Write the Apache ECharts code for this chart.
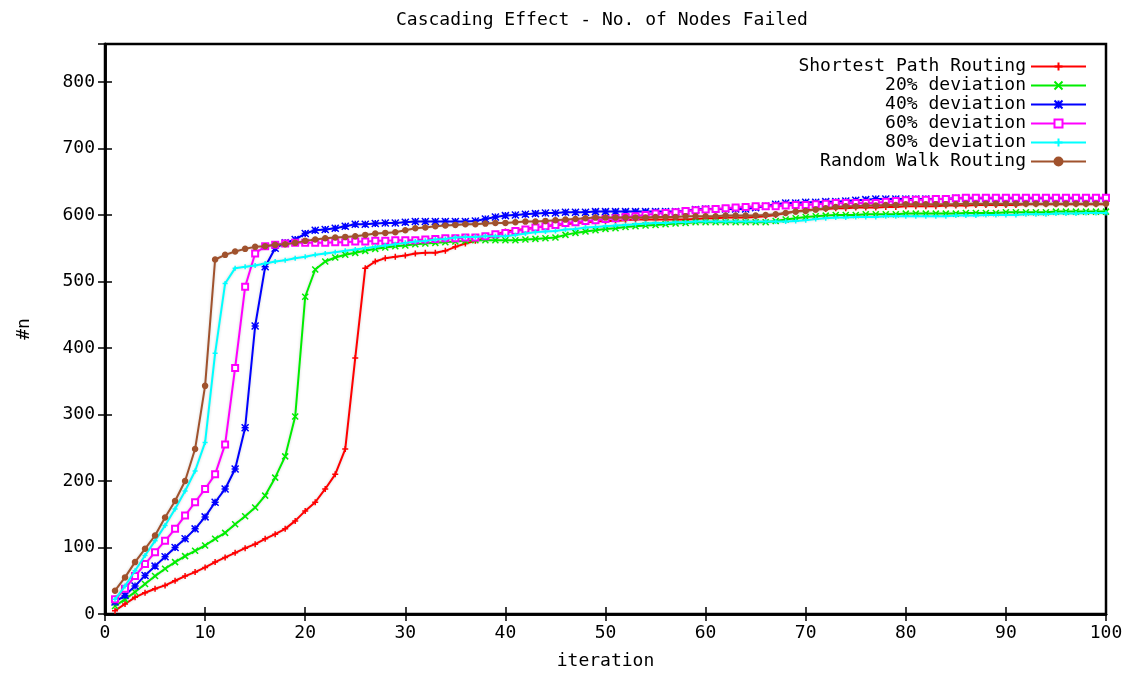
<!DOCTYPE html>
<html>
<head>
<meta charset="utf-8">
<script src="https://cdn.jsdelivr.net/npm/echarts@6/dist/echarts.min.js"></script>
<style>
html,body{margin:0;padding:0;background:#fff;}
#chart{width:1139px;height:675px;}
</style>
</head>
<body>
<div id="chart"></div>
<script>
const titleText = "Cascading Effect - No. of Nodes Failed";
const xAxisName = "iteration";
const yAxisName = "#n";
const seriesNames = ["Shortest Path Routing", "20% deviation", "40% deviation", "60% deviation", "80% deviation", "Random Walk Routing"];
const seriesColors = ["#ff0000", "#00ee00", "#0000ff", "#ff00ff", "#00ffff", "#a0522d"];

const iterations = [];
for (let i = 1; i <= 100; i++) iterations.push(i);

const shortestPath = [
  5, 15, 25, 32, 38, 43, 50, 57, 63, 70,
  78, 85, 92, 99, 105, 113, 120, 128, 140, 155,
  168, 188, 210, 248, 385, 520, 530, 535, 537, 539,
  542, 543, 543, 546, 552, 557, 561, 565, 570, 575,
  577, 579, 581, 583, 585, 586, 588, 589, 590, 591,
  591, 592, 593, 593, 593, 593, 593, 593, 594, 595,
  595, 596, 596, 596, 597, 598, 600, 603, 605, 607,
  608, 609, 610, 610, 611, 611, 611, 612, 612, 613,
  613, 613, 613, 614, 614, 614, 615, 615, 615, 615,
  615, 616, 616, 616, 616, 616, 616, 616, 616, 616
];
const dev20 = [
  12, 22, 33, 45, 57, 68, 78, 87, 95, 103,
  113, 122, 135, 147, 160, 178, 205, 237, 297, 477,
  518, 530, 536, 540, 543, 546, 549, 551, 553, 554,
  556, 557, 558, 559, 560, 561, 562, 562, 562, 562,
  562, 563, 564, 565, 566, 570, 573, 575, 577, 579,
  580, 582, 583, 584, 585, 586, 587, 588, 589, 589,
  589, 589, 589, 589, 589, 589, 591, 593, 595, 597,
  598, 599, 600, 600, 600, 601, 601, 601, 601, 602,
  602, 602, 602, 602, 602, 603, 603, 603, 603, 604,
  604, 604, 604, 604, 605, 605, 605, 605, 605, 605
];
const dev40 = [
  18, 28, 42, 58, 72, 86, 100, 113, 128, 146,
  168, 188, 218, 280, 433, 522, 550, 558, 563, 572,
  577, 578, 580, 583, 586, 586, 587, 588, 588, 589,
  590, 590, 590, 590, 590, 590, 591, 594, 597, 599,
  600, 601, 602, 603, 603, 604, 604, 604, 605, 605,
  605, 605, 605, 605, 605, 605, 605, 606, 608, 609,
  609, 609, 609, 609, 611, 613, 616, 618, 618, 619,
  619, 620, 620, 621, 622, 623, 624, 624, 624, 624,
  624, 624, 624, 624, 625, 625, 625, 625, 625, 625,
  625, 625, 625, 625, 625, 625, 625, 625, 625, 625
];
const dev60 = [
  22, 38, 57, 75, 93, 110, 128, 148, 168, 188,
  210, 255, 370, 492, 542, 553, 555, 557, 558, 558,
  558, 558, 559, 559, 560, 560, 561, 561, 562, 562,
  562, 563, 564, 565, 565, 566, 566, 568, 571, 573,
  576, 578, 581, 583, 585, 588, 589, 591, 592, 594,
  595, 597, 598, 600, 602, 603, 604, 606, 607, 608,
  609, 610, 611, 612, 613, 613, 613, 614, 615, 615,
  616, 617, 618, 618, 618, 618, 618, 620, 621, 622,
  623, 623, 624, 624, 625, 626, 626, 626, 626, 626,
  626, 626, 626, 626, 626, 626, 626, 626, 626, 626
];
const dev80 = [
  22, 42, 65, 88, 110, 133, 158, 185, 215, 258,
  392, 497, 520, 522, 524, 527, 530, 532, 535, 537,
  540, 542, 544, 546, 548, 550, 552, 554, 556, 558,
  560, 561, 563, 564, 566, 567, 567, 568, 568, 568,
  570, 572, 574, 575, 576, 578, 579, 581, 582, 583,
  584, 585, 586, 587, 588, 588, 589, 589, 590, 590,
  590, 590, 590, 590, 590, 590, 590, 590, 591, 592,
  594, 595, 596, 596, 597, 597, 597, 598, 598, 598,
  598, 598, 598, 598, 599, 599, 599, 600, 600, 600,
  600, 601, 601, 601, 602, 602, 602, 603, 603, 603
];
const randomWalk = [
  35, 55, 78, 98, 118, 145, 170, 200, 248, 343,
  533, 540, 545, 549, 552, 553, 555, 556, 558, 561,
  563, 565, 566, 567, 568, 570, 572, 573, 574, 577,
  580, 581, 583, 584, 585, 586, 586, 587, 588, 588,
  589, 590, 590, 591, 592, 593, 594, 595, 596, 596,
  596, 596, 596, 596, 597, 597, 597, 598, 598, 598,
  598, 599, 599, 599, 599, 600, 601, 603, 605, 606,
  608, 610, 612, 613, 613, 614, 614, 615, 615, 616,
  616, 616, 616, 616, 616, 617, 617, 617, 617, 617,
  617, 617, 617, 617, 617, 617, 617, 617, 617, 617
];

const xTicks = { min: 0, max: 100, interval: 10 };
const yTicks = { min: 0, max: 857, interval: 100 };

const allValues = [shortestPath, dev20, dev40, dev60, dev80, randomWalk];
const symbols = [
  'path://M5,0L5,10M0,5L10,5',
  'path://M0,0L10,10M10,0L0,10',
  'path://M0,0L10,10M10,0L0,10M5,0L5,10M0,5L10,5',
  'emptyRect',
  'path://M5,0L5,10M0,5L10,5',
  'circle'
];
const symbolSizes = [6, 6, 7, 6, 5, 5];

const FONT = "'DejaVu Sans Mono', 'Liberation Mono', monospace";

const series = seriesNames.map((name, k) => ({
  name: name,
  type: 'line',
  xAxisIndex: 0,
  yAxisIndex: 0,
  data: iterations.map((it, i) => [it, allValues[k][i]]),
  symbol: symbols[k],
  symbolSize: symbolSizes[k],
  showSymbol: true,
  lineStyle: { color: seriesColors[k], width: 2, shadowColor: 'rgba(0,0,0,0.18)', shadowBlur: 3 },
  itemStyle: { color: seriesColors[k], borderColor: seriesColors[k], borderWidth: 1.5 },
  emphasis: { disabled: true },
  z: 2 + k
}));

const chart = echarts.init(document.getElementById('chart'), null, { renderer: 'canvas' });
chart.setOption({
  animation: false,
  backgroundColor: '#ffffff',
  title: {
    text: titleText,
    left: 391,
    top: 6,
    textStyle: { fontFamily: FONT, fontSize: 18, fontWeight: 'normal', color: '#000' }
  },
  legend: {
    data: seriesNames,
    orient: 'vertical',
    right: 47,
    top: 52,
    align: 'right',
    itemWidth: 55,
    itemHeight: 10,
    itemGap: 0,
    textStyle: { fontFamily: FONT, fontSize: 18, color: '#000', lineHeight: 19 }
  },
  grid: {
    left: 105, right: 33, top: 44, bottom: 60,
    show: true, borderColor: '#000', borderWidth: 2.5, backgroundColor: 'transparent'
  },
  xAxis: [{
    type: 'value',
    min: xTicks.min, max: xTicks.max, interval: xTicks.interval,
    name: xAxisName, nameLocation: 'middle', nameGap: 38,
    nameTextStyle: { fontFamily: FONT, fontSize: 18, color: '#000' },
    axisLine: { show: true, lineStyle: { color: '#000', width: 2.5 } },
    axisTick: { show: true, inside: true, length: 7, lineStyle: { color: '#000', width: 1.5 } },
    axisLabel: { margin: 10, fontFamily: FONT, fontSize: 18, color: '#000' },
    splitLine: { show: false }
  }, {
    type: 'value', position: 'top',
    min: xTicks.min, max: xTicks.max, interval: xTicks.interval,
    axisLine: { show: true, lineStyle: { color: '#000', width: 2.5 } },
    axisTick: { show: true, inside: true, length: 7, lineStyle: { color: '#000', width: 1.5 } },
    axisLabel: { show: false },
    splitLine: { show: false }
  }],
  yAxis: [{
    type: 'value',
    min: yTicks.min, max: yTicks.max, interval: yTicks.interval,
    name: yAxisName, nameLocation: 'middle', nameGap: 72, nameRotate: 90,
    nameTextStyle: { fontFamily: FONT, fontSize: 18, color: '#000' },
    axisLine: { show: true, lineStyle: { color: '#000', width: 2.5 } },
    axisTick: { show: true, inside: true, length: 7, lineStyle: { color: '#000', width: 1.5 } },
    axisLabel: { margin: 10, fontFamily: FONT, fontSize: 18, color: '#000', showMaxLabel: false },
    splitLine: { show: false }
  }, {
    type: 'value', position: 'right',
    min: yTicks.min, max: yTicks.max, interval: yTicks.interval,
    axisLine: { show: true, lineStyle: { color: '#000', width: 2.5 } },
    axisTick: { show: true, inside: true, length: 7, lineStyle: { color: '#000', width: 1.5 } },
    axisLabel: { show: false },
    splitLine: { show: false }
  }],
  series: series
});
</script>
</body>
</html>
